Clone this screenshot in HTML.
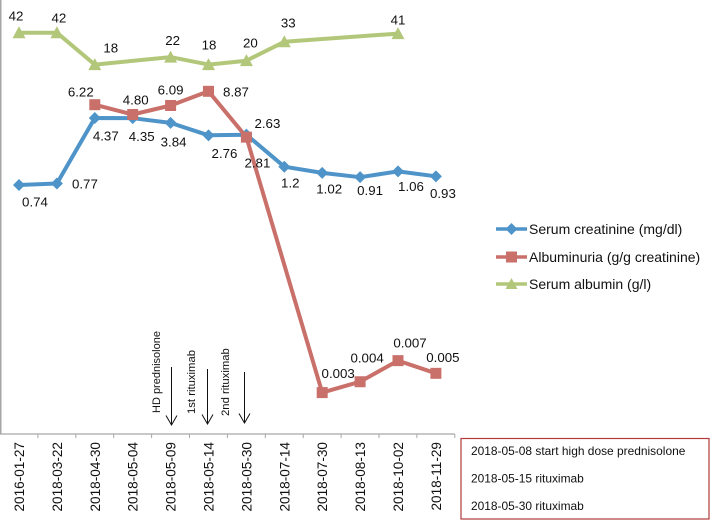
<!DOCTYPE html>
<html>
<head>
<meta charset="utf-8">
<style>
html,body{margin:0;padding:0;background:#fff;}
#chart{display:block;width:710px;height:520px;filter:blur(0.3px);}
text{font-family:"Liberation Sans",sans-serif;fill:#111;}
</style>
</head>
<body>
<svg id="chart" xmlns="http://www.w3.org/2000/svg" width="710" height="520" viewBox="0 0 710 520">
  <g id="grid-layer"></g>
  <g id="series-layer"></g>
  <g id="label-layer"></g>

  <g fill="none" stroke="#111" stroke-width="1">
    <text transform="translate(160,413) rotate(-90)" font-size="11" stroke="none">HD prednisolone</text>
    <text transform="translate(195,414) rotate(-90)" font-size="11.3" stroke="none">1st rituximab</text>
    <text transform="translate(229,416) rotate(-90)" font-size="11.3" stroke="none">2nd rituximab</text>
    <path d="M171.5 367V425M166 415.5L171.5 425L177 415.5"/>
    <path d="M207.5 369V424M202 414.5L207.5 424L213 414.5"/>
    <path d="M244.5 372V423M239 413.5L244.5 423L250 413.5"/>
  </g>

  <g>
    <g>
      <line x1="496" x2="527" y1="229" y2="229" stroke="#4f94c9" stroke-width="3.5"/>
      <polygon points="511.5,223 517.5,229 511.5,235 505.5,229" fill="#4f94c9"/>
      <text x="529" y="234" font-size="14">Serum creatinine (mg/dl)</text>
    </g>
    <g>
      <line x1="496" x2="527" y1="257" y2="257" stroke="#c9706a" stroke-width="3.5"/>
      <rect x="506" y="251.5" width="11" height="11" fill="#c9706a"/>
      <text x="529" y="262" font-size="14">Albuminuria (g/g creatinine)</text>
    </g>
    <g>
      <line x1="496" x2="527" y1="284" y2="284" stroke="#b3c77a" stroke-width="3.5"/>
      <polygon points="511.5,278 517.5,289 505.5,289" fill="#b3c77a"/>
      <text x="529" y="289" font-size="14">Serum albumin (g/l)</text>
    </g>
  </g>

  <g>
    <rect x="461" y="438.5" width="248" height="80.5" fill="#fff" stroke="#b23a3a" stroke-width="1.2"/>
    <text x="471" y="455" font-size="11.95">2018-05-08 start high dose prednisolone</text>
    <text x="471" y="482.5" font-size="11.95">2018-05-15 rituximab</text>
    <text x="471" y="510" font-size="11.95">2018-05-30 rituximab</text>
  </g>
</svg>

<script>
const categories = ["2016-01-27","2018-03-22","2018-04-30","2018-05-04","2018-05-09","2018-05-14","2018-05-30","2018-07-14","2018-07-30","2018-08-13","2018-10-02","2018-11-29"];
const creatinine = [0.74,0.77,4.37,4.35,3.84,2.76,2.81,1.2,1.02,0.91,1.06,0.93];
const albuminuria = [null,null,6.22,4.80,6.09,8.87,2.63,null,0.003,0.004,0.007,0.005];
const albumin = [42,42,18,null,22,18,20,33,null,null,41,null];
const creatinineLabels = ["0.74","0.77","4.37","4.35","3.84","2.76","2.81","1.2","1.02","0.91","1.06","0.93"];
const albuminuriaLabels = [null,null,"6.22","4.80","6.09","8.87","2.63",null,"0.003","0.004","0.007","0.005"];
const albuminLabels = ["42","42","18",null,"22","18","20","33",null,null,"41",null];

const creatinineNudge = [[16,17],[28,0.5],[11,18],[9,18],[3,19],[16,18],[11,28],[6,16],[7,16],[10,13],[13,15],[7,17]];
const albuminuriaNudge = [null,null,[-14,-13],[3,-14.5],[0,-15.5],[27.5,0.5],[21,-14],null,[16,-19.5],[7,-24],[12,-18],[7,-16]];
const albuminNudge = [[-3,-17],[2,-15],[16,-17],null,[2,-17],[0.5,-20],[4,-18],[4,-19],null,null,[0,-14],null];

const NS = "http://www.w3.org/2000/svg";
const AXIS_Y = 434, BAND = 37.9;
const yMin = 0.001, yMax = 100;

function xScale(i){ return 19 + BAND * i; }
function yScale(v){
  const t = (Math.log10(v) - Math.log10(yMin)) / (Math.log10(yMax) - Math.log10(yMin));
  return AXIS_Y - t * AXIS_Y;
}
function make(tag, parent){
  const el = document.createElementNS(NS, tag);
  parent.appendChild(el);
  return el;
}

const grid = document.getElementById("grid-layer");
const seriesLayer = document.getElementById("series-layer");
const labelLayer = document.getElementById("label-layer");

const yAxisLine = make("line", grid);


yAxisLine.setAttribute("x1", 0.75); yAxisLine.setAttribute("x2", 0.75);
yAxisLine.setAttribute("y1", 0); yAxisLine.setAttribute("y2", AXIS_Y);
yAxisLine.setAttribute("stroke", "#a6a6a6"); yAxisLine.setAttribute("stroke-width", 1.5);

const xAxisLine = make("line", grid);


xAxisLine.setAttribute("x1", 0); xAxisLine.setAttribute("x2", BAND * categories.length);
xAxisLine.setAttribute("y1", AXIS_Y); xAxisLine.setAttribute("y2", AXIS_Y);
xAxisLine.setAttribute("stroke", "#a6a6a6"); xAxisLine.setAttribute("stroke-width", 1.2);

categories.forEach(function(cat, i){
  const tick = make("line", grid);
  
  
  const tx = BAND * (i + 1);
  tick.setAttribute("x1", tx); tick.setAttribute("x2", tx);
  tick.setAttribute("y1", AXIS_Y); tick.setAttribute("y2", AXIS_Y + 4);
  tick.setAttribute("stroke", "#a6a6a6");

  const label = make("text", grid);
  
  
  label.setAttribute("transform", "translate(" + (xScale(i) + 5) + ",442) rotate(-90)");
  label.setAttribute("text-anchor", "end");
  label.setAttribute("font-size", "13.6");
  label.textContent = cat;
});

function drawLine(values, color, name){
  const pts = [];
  values.forEach(function(v, i){
    if (v !== null) pts.push(xScale(i).toFixed(1) + "," + yScale(v).toFixed(1));
  });
  const line = make("polyline", seriesLayer);
  
  
  line.setAttribute("points", pts.join(" "));
  line.setAttribute("fill", "none");
  line.setAttribute("stroke", color);
  line.setAttribute("stroke-width", 4);
  line.setAttribute("stroke-linejoin", "round");
}

function drawLabels(texts, nudges, values){
  texts.forEach(function(t, i){
    if (t === null) return;
    const lab = make("text", labelLayer);
    
    
    lab.setAttribute("x", (xScale(i) + nudges[i][0]).toFixed(1));
    lab.setAttribute("y", (yScale(values[i]) + nudges[i][1] + 4.7).toFixed(1));
    lab.setAttribute("text-anchor", "middle");
    lab.setAttribute("font-size", "13.3");
    lab.textContent = t;
  });
}

drawLine(albumin, "#b3c77a", "albumin-line");
drawLine(creatinine, "#4f94c9", "creatinine-line");
drawLine(albuminuria, "#c9706a", "albuminuria-line");

albumin.forEach(function(v, i){
  if (v === null) return;
  const m = make("polygon", seriesLayer);
  
  
  const cx = xScale(i), cy = yScale(v);
  m.setAttribute("points", cx + "," + (cy - 6.5) + " " + (cx + 6.5) + "," + (cy + 5.5) + " " + (cx - 6.5) + "," + (cy + 5.5));
  m.setAttribute("fill", "#b3c77a");
});

creatinine.forEach(function(v, i){
  if (v === null) return;
  const m = make("polygon", seriesLayer);
  
  
  const cx = xScale(i), cy = yScale(v);
  m.setAttribute("points", cx + "," + (cy - 6) + " " + (cx + 6) + "," + cy + " " + cx + "," + (cy + 6) + " " + (cx - 6) + "," + cy);
  m.setAttribute("fill", "#4f94c9");
});

albuminuria.forEach(function(v, i){
  if (v === null) return;
  const m = make("rect", seriesLayer);
  
  
  m.setAttribute("x", xScale(i) - 5.5);
  m.setAttribute("y", yScale(v) - 5.5);
  m.setAttribute("width", 11);
  m.setAttribute("height", 11);
  m.setAttribute("fill", "#c9706a");
});

drawLabels(creatinineLabels, creatinineNudge, creatinine);
drawLabels(albuminuriaLabels, albuminuriaNudge, albuminuria);
drawLabels(albuminLabels, albuminNudge, albumin);
</script>
</body>
</html>
